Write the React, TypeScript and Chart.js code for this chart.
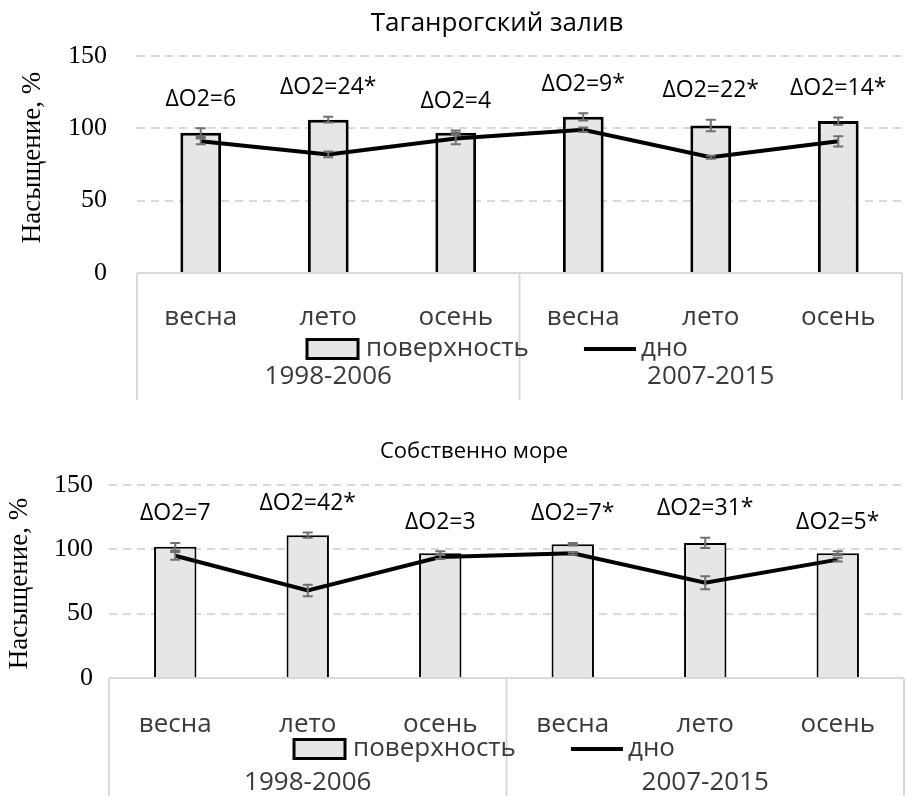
import React, { useEffect, useRef } from 'react';
import { Chart, registerables } from 'chart.js';

Chart.register(...registerables);

// ---------- data ----------
const seasons = ['весна', 'лето', 'осень', 'весна', 'лето', 'осень'];
const periods = ['1998-2006', '2007-2015'];
const seriesNames = ['поверхность', 'дно'];
const yAxisTitle = 'Насыщение, %';
const yMin = 0;
const yMax = 150;
const yStep = 50;

const tagTitle = 'Таганрогский залив';
const tagSurface = [97, 106, 97, 108, 102, 105];
const tagSurfaceErr = [3, 2, 1.5, 2.5, 4, 2.5];
const tagBottom = [91, 82, 93, 99, 80, 91];
const tagBottomErr = [2, 2, 4, 1.5, 1, 3.5];
const tagDelta = ['ΔO2=6', 'ΔO2=24*', 'ΔO2=4', 'ΔO2=9*', 'ΔO2=22*', 'ΔO2=14*'];

const seaTitle = 'Собственно море';
const seaSurface = [102, 111, 97, 104, 105, 97];
const seaSurfaceErr = [3, 2, 1.5, 1, 4, 1.5];
const seaBottom = [95, 68, 94, 97, 74, 92];
const seaBottomErr = [3, 4.5, 1.5, 1, 5, 1.5];
const seaDelta = ['ΔO2=7', 'ΔO2=42*', 'ΔO2=3', 'ΔO2=7*', 'ΔO2=31*', 'ΔO2=5*'];

// ---------- styles ----------
const SANS = '"Open Sans", "Noto Sans", sans-serif';
const SERIF = '"Liberation Serif", "Times New Roman", serif';
const BAR_FILL = '#e6e6e6';
const GRID = '#d9d9d9';
const ERR = '#707070';
const TXT = '#3a3a3a';

type Panel = {
  title: string;
  surface: number[];
  surfaceErr: number[];
  bottom: number[];
  bottomErr: number[];
  delta: string[];
  height: number;
  padTop: number;
  padRight: number;
  yWidth: number;
  xHeight: number;
  yTickPad: number;
  xTickPad: number;
  titleFont: number;
  titleX: number;
  titleY: number;
  yTitleX: number;
  yTitleDy: number;
  legendDy: number;
  groupDy: number;
  barBorder: number;
};

const panels: Panel[] = [
  {
    title: tagTitle,
    surface: tagSurface,
    surfaceErr: tagSurfaceErr,
    bottom: tagBottom,
    bottomErr: tagBottomErr,
    delta: tagDelta,
    height: 400,
    padTop: 56,
    padRight: 4,
    yWidth: 137,
    xHeight: 127,
    yTickPad: 30,
    xTickPad: 21,
    titleFont: 26,
    titleX: 497,
    titleY: 31,
    yTitleX: 33,
    yTitleDy: -7,
    legendDy: 76,
    groupDy: 111,
    barBorder: 3,
  },
  {
    title: seaTitle,
    surface: seaSurface,
    surfaceErr: seaSurfaceErr,
    bottom: seaBottom,
    bottomErr: seaBottomErr,
    delta: seaDelta,
    height: 396,
    padTop: 85,
    padRight: 2,
    yWidth: 109,
    xHeight: 118,
    yTickPad: 16,
    xTickPad: 23,
    titleFont: 22,
    titleX: 474,
    titleY: 58,
    yTitleX: 20,
    yTitleDy: 2,
    legendDy: 71,
    groupDy: 112,
    barBorder: 2,
  },
];

function makeDecor(p: Panel) {
  return {
    id: 'decor',
    afterDatasetsDraw(chart: any) {
      const ctx = chart.ctx as CanvasRenderingContext2D;
      const ys = chart.scales.y;
      const barMeta = chart.getDatasetMeta(1);
      const series = [
        { v: p.surface, e: p.surfaceErr },
        { v: p.bottom, e: p.bottomErr },
      ];
      ctx.save();
      ctx.strokeStyle = ERR;
      ctx.lineWidth = 2;
      series.forEach((s) => {
        s.v.forEach((v, i) => {
          const x = barMeta.data[i].x;
          const yHi = ys.getPixelForValue(v + s.e[i]);
          const yLo = ys.getPixelForValue(v - s.e[i]);
          ctx.beginPath();
          ctx.moveTo(x, yHi);
          ctx.lineTo(x, yLo);
          ctx.moveTo(x - 5, yHi);
          ctx.lineTo(x + 5, yHi);
          ctx.moveTo(x - 5, yLo);
          ctx.lineTo(x + 5, yLo);
          ctx.stroke();
        });
      });
      // delta labels
      ctx.fillStyle = '#000';
      ctx.font = `23px ${SANS}`;
      ctx.textAlign = 'center';
      ctx.textBaseline = 'middle';
      p.delta.forEach((t, i) => {
        const x = barMeta.data[i].x;
        const y = ys.getPixelForValue(p.surface[i] + p.surfaceErr[i]) - 29;
        ctx.fillText(t, x, y);
      });
      ctx.restore();
    },
    afterDraw(chart: any) {
      const ctx = chart.ctx as CanvasRenderingContext2D;
      const { left, right, top, bottom } = chart.chartArea;
      const xs = chart.scales.x;
      const ys = chart.scales.y;
      const H = chart.height;
      ctx.save();
      // title
      ctx.fillStyle = '#000';
      ctx.font = `${p.titleFont}px ${SANS}`;
      ctx.textAlign = 'center';
      ctx.textBaseline = 'alphabetic';
      ctx.fillText(p.title, p.titleX, p.titleY);
      // y title
      ctx.save();
      ctx.translate(p.yTitleX, (top + bottom) / 2 + p.yTitleDy);
      ctx.rotate(-Math.PI / 2);
      ctx.font = `27px ${SERIF}`;
      ctx.textBaseline = 'middle';
      ctx.fillText(yAxisTitle, 0, 0);
      ctx.restore();
      // category box
      const y0 = ys.getPixelForValue(0);
      const mid = (xs.getPixelForValue(2) + xs.getPixelForValue(3)) / 2;
      ctx.strokeStyle = GRID;
      ctx.lineWidth = 2;
      ctx.beginPath();
      ctx.moveTo(left, y0);
      ctx.lineTo(right, y0);
      [left, mid, right].forEach((x) => {
        ctx.moveTo(x, y0);
        ctx.lineTo(x, H);
      });
      ctx.stroke();
      // group labels
      ctx.fillStyle = TXT;
      ctx.font = `26px ${SANS}`;
      ctx.textAlign = 'center';
      const g1 = (xs.getPixelForValue(0) + xs.getPixelForValue(2)) / 2;
      const g2 = (xs.getPixelForValue(3) + xs.getPixelForValue(5)) / 2;
      ctx.fillText(periods[0], g1, bottom + p.groupDy);
      ctx.fillText(periods[1], g2, bottom + p.groupDy);
      // legend
      ctx.font = `26px ${SANS}`;
      const w1 = ctx.measureText(seriesNames[0]).width;
      const w2 = ctx.measureText(seriesNames[1]).width;
      const boxW = 51, boxH = 19, gap1 = 8, gapMid = 55, lineW = 52, gap2 = 5;
      const total = boxW + gap1 + w1 + gapMid + lineW + gap2 + w2;
      let lx = (left + right) / 2 - 22 - total / 2;
      const ly = bottom + p.legendDy;
      ctx.fillStyle = BAR_FILL;
      ctx.fillRect(lx, ly - boxH / 2, boxW, boxH);
      ctx.strokeStyle = '#000';
      ctx.lineWidth = 3;
      ctx.strokeRect(lx, ly - boxH / 2, boxW, boxH);
      lx += boxW + gap1;
      ctx.fillStyle = TXT;
      ctx.textAlign = 'left';
      ctx.textBaseline = 'middle';
      ctx.fillText(seriesNames[0], lx, ly);
      lx += w1 + gapMid;
      ctx.strokeStyle = '#000';
      ctx.lineWidth = 4;
      ctx.beginPath();
      ctx.moveTo(lx, ly);
      ctx.lineTo(lx + lineW, ly);
      ctx.stroke();
      lx += lineW + gap2;
      ctx.fillText(seriesNames[1], lx, ly);
      ctx.restore();
    },
  };
}

function ChartPanel({ p }: { p: Panel }) {
  const ref = useRef<HTMLCanvasElement | null>(null);
  useEffect(() => {
    if (!ref.current) return;
    const chart = new Chart(ref.current, {
      type: 'bar',
      data: {
        labels: seasons,
        datasets: [
          {
            type: 'line',
            label: seriesNames[1],
            data: p.bottom,
            borderColor: '#000',
            backgroundColor: '#000',
            borderWidth: 4,
            pointRadius: 0,
            tension: 0,
            fill: false,
            order: 0,
          } as any,
          {
            type: 'bar',
            label: seriesNames[0],
            data: p.surface,
            backgroundColor: BAR_FILL,
            borderColor: '#000',
            borderWidth: p.barBorder,
            barPercentage: 0.32,
            categoryPercentage: 1,
            order: 1,
          } as any,
        ],
      },
      options: {
        animation: false,
        responsive: false,
        maintainAspectRatio: false,
        devicePixelRatio: 1,
        layout: { padding: { top: p.padTop, right: p.padRight, left: 0, bottom: 0 } },
        plugins: {
          legend: { display: false },
          title: { display: false },
          tooltip: { enabled: false },
        },
        scales: {
          x: {
            grid: { display: false },
            border: { display: false },
            ticks: {
              font: { family: SANS, size: 26 },
              color: TXT,
              padding: p.xTickPad,
              maxRotation: 0,
              autoSkip: false,
            },
            afterFit: (s: any) => {
              s.height = p.xHeight;
            },
          },
          y: {
            min: yMin,
            max: yMax,
            ticks: {
              stepSize: yStep,
              font: { family: SERIF, size: 26 },
              color: '#000',
              padding: p.yTickPad,
            },
            grid: {
              color: (c: any) => (c.tick && c.tick.value === 0 ? 'rgba(0,0,0,0)' : GRID),
              lineWidth: 2,
              drawTicks: false,
            },
            border: { display: false, dash: [8, 6] },
            afterFit: (s: any) => {
              s.width = p.yWidth;
            },
          },
        },
      } as any,
      plugins: [makeDecor(p)],
    });
    return () => chart.destroy();
  }, [p]);
  return (
    <canvas
      ref={ref}
      width={906}
      height={p.height}
      style={{ display: 'block', width: 906, height: p.height }}
    />
  );
}

export default function App() {
  return (
    <div style={{ position: 'absolute', left: 0, top: 0, width: 906, height: 796, background: '#fff' }}>
      {panels.map((p, i) => (
        <ChartPanel key={i} p={p} />
      ))}
    </div>
  );
}
